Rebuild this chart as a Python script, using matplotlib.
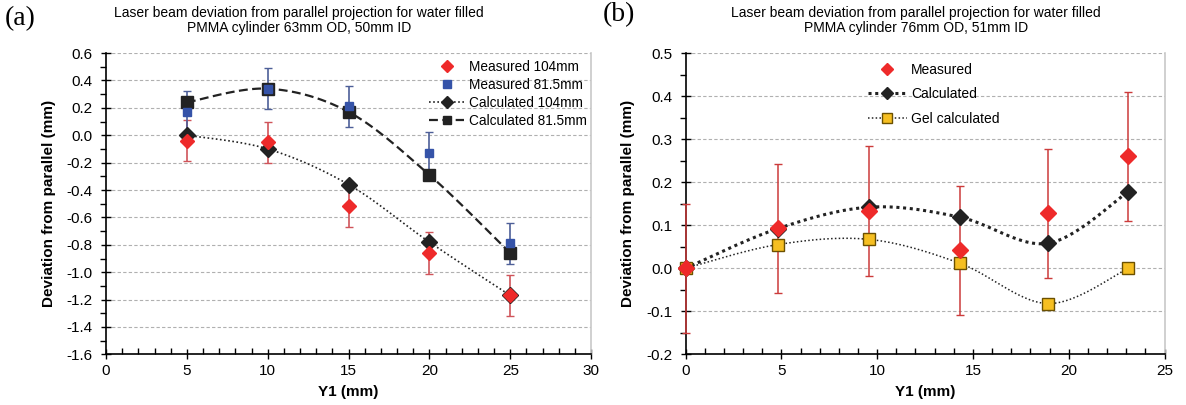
import numpy as np
import matplotlib
matplotlib.use("Agg")
import matplotlib.pyplot as plt
from matplotlib.ticker import MultipleLocator, FormatStrFormatter

plt.rcParams['font.family'] = ['Liberation Sans', 'DejaVu Sans']

# (a) 63mm OD / 50mm ID cylinder
y1_a = [5, 10, 15, 20, 25]
meas_104 = [-0.04, -0.05, -0.52, -0.86, -1.17]
meas_815 = [0.17, 0.34, 0.21, -0.13, -0.79]
err_a = 0.15
calc_104 = [0.0, -0.10, -0.36, -0.78, -1.17]
calc_815 = [0.24, 0.34, 0.17, -0.29, -0.86]

# (b) 76mm OD / 51mm ID cylinder
y1_b = [0.0, 4.8, 9.6, 14.3, 18.9, 23.1]
meas_b = [0.0, 0.093, 0.133, 0.042, 0.128, 0.26]
err_b = 0.15
calc_b = [0.0, 0.092, 0.142, 0.119, 0.058, 0.178]
gel_b = [0.0, 0.055, 0.067, 0.012, -0.082, 0.0]


def smooth(xs, ys, n=30):
    # Catmull-Rom style curve through the points (spreadsheet "smoothed line")
    p = np.column_stack([xs, ys]).astype(float)
    out = []
    for i in range(len(p) - 1):
        p0 = p[i - 1] if i > 0 else p[i]
        p3 = p[i + 2] if i + 2 < len(p) else p[i + 1]
        p1, p2 = p[i], p[i + 1]
        c1 = p1 + (p2 - p0) / 6
        c2 = p2 - (p3 - p1) / 6
        t = np.linspace(0, 1, n)[:, None]
        seg = ((1 - t) ** 3) * p1 + 3 * ((1 - t) ** 2) * t * c1 + 3 * (1 - t) * t ** 2 * c2 + t ** 3 * p2
        out.append(seg if i == 0 else seg[1:])
    seg = np.vstack(out)
    return seg[:, 0], seg[:, 1]


def style_axes(ax):
    ax.grid(axis='y', which='major', color='#b0b0b0', linestyle=(0, (3, 2)), linewidth=0.8)
    ax.set_axisbelow(True)
    ax.spines['top'].set_visible(False)
    ax.spines['right'].set_color('#c8c8c8')
    ax.spines['right'].set_linewidth(1.2)
    for s in ('left', 'bottom'):
        ax.spines[s].set_color('black')
        ax.spines[s].set_linewidth(1.2)
    ax.tick_params(which='major', direction='inout', length=7, width=1, labelsize=11)
    ax.tick_params(axis='y', which='major', pad=6)
    ax.tick_params(axis='y', which='minor', direction='out', length=4, width=1)
    ax.tick_params(axis='x', which='minor', direction='in', length=4, width=1)
    ax.set_xlabel('Y1 (mm)', fontsize=11, fontweight='bold', labelpad=5)
    ax.set_ylabel('Deviation from parallel (mm)', fontsize=11, fontweight='bold', labelpad=8)


fig = plt.figure(figsize=(11.86, 4.05), dpi=100)
ax1 = fig.add_axes([0.0894, 0.125, 0.409, 0.744])
ax2 = fig.add_axes([0.578, 0.125, 0.404, 0.744])

# ---- panel (a)
red_err = '#d0545a'
blue_err = '#4d5f98'
ax1.errorbar(y1_a, meas_104, yerr=err_a, fmt='none', ecolor=red_err, elinewidth=1.2, capsize=3, zorder=2)
ax1.errorbar(y1_a, meas_815, yerr=err_a, fmt='none', ecolor=blue_err, elinewidth=1.2, capsize=3, zorder=2)

sx, sy = smooth(y1_a, calc_104)
ax1.plot(sx, sy, color='#222222', linestyle=(0, (1, 1.5)), linewidth=1.2, zorder=3)
ax1.plot(y1_a, calc_104, linestyle='none', marker='D', markersize=8, color='#222222', zorder=4)
sx, sy = smooth(y1_a, calc_815)
ax1.plot(sx, sy, color='#222222', linestyle=(0, (4, 2)), linewidth=1.6, zorder=3)
ax1.plot(y1_a, calc_815, linestyle='none', marker='s', markersize=8.5, color='#222222', zorder=4)

ax1.plot(y1_a, meas_104, linestyle='none', marker='D', markersize=7.5, color='#ee2a2a', zorder=5)
ax1.plot(y1_a, meas_815, linestyle='none', marker='s', markersize=6, color='#3553a8', zorder=5)

# legend handles
h1 = ax1.plot([], [], linestyle='none', marker='D', markersize=6, color='#ee2a2a')[0]
h2 = ax1.plot([], [], linestyle='none', marker='s', markersize=6, color='#3553a8')[0]
h3 = ax1.plot([], [], color='#222222', linestyle=(0, (1, 1.5)), linewidth=1.2, marker='D', markersize=6)[0]
h4 = ax1.plot([], [], color='#222222', linestyle=(0, (4, 2)), linewidth=1.6, marker='s', markersize=6)[0]
ax1.legend([h1, h2, h3, h4], ['Measured 104mm', 'Measured 81.5mm', 'Calculated 104mm', 'Calculated 81.5mm'],
           loc='upper right', bbox_to_anchor=(1.01, 1.01), frameon=False, fontsize=9.8,
           handlelength=2.6, handletextpad=0.3, labelspacing=0.3, borderaxespad=0.3)

ax1.set_xlim(0, 30)
ax1.set_ylim(-1.6, 0.6)
ax1.xaxis.set_major_locator(MultipleLocator(5))
ax1.xaxis.set_minor_locator(MultipleLocator(1))
ax1.yaxis.set_major_locator(MultipleLocator(0.2))
ax1.yaxis.set_minor_locator(MultipleLocator(0.1))
ax1.yaxis.set_major_formatter(FormatStrFormatter('%.1f'))
style_axes(ax1)

# ---- panel (b)
# error bars sit above the spines so the one at Y1 = 0 shows over the axis line
ax2.errorbar(y1_b, meas_b, yerr=err_b, fmt='none', ecolor='#cc3b3b', elinewidth=1.1, capsize=3,
             zorder=3, clip_on=False)

sx, sy = smooth(y1_b, calc_b)
ax2.plot(sx, sy, color='#222222', linestyle=(0, (1, 1.2)), linewidth=2.2, zorder=4)
ax2.plot(y1_b, calc_b, linestyle='none', marker='D', markersize=8, color='#222222', zorder=5, clip_on=False)
sx, sy = smooth(y1_b, gel_b)
ax2.plot(sx, sy, color='#222222', linestyle=(0, (1, 1.5)), linewidth=1.1, zorder=4)
ax2.plot(y1_b, gel_b, linestyle='none', marker='s', markersize=8, markerfacecolor='#f6bf22',
         markeredgecolor='#6b5000', markeredgewidth=1.0, zorder=5, clip_on=False)
ax2.plot(y1_b, meas_b, linestyle='none', marker='D', markersize=8.5, color='#ee2a2a', zorder=6, clip_on=False)

g1 = ax2.plot([], [], linestyle='none', marker='D', markersize=6, color='#ee2a2a')[0]
g2 = ax2.plot([], [], color='#222222', linestyle=(0, (1, 1.2)), linewidth=2.2, marker='D', markersize=6)[0]
g3 = ax2.plot([], [], color='#222222', linestyle=(0, (1, 1.5)), linewidth=1.1, marker='s', markersize=7,
              markerfacecolor='#f6bf22', markeredgecolor='#6b5000')[0]
ax2.legend([g1, g2, g3], ['Measured', 'Calculated', 'Gel calculated'],
           loc='upper left', bbox_to_anchor=(0.36, 1.0), frameon=False, fontsize=10,
           handlelength=2.8, handletextpad=0.3, labelspacing=0.75, borderaxespad=0.3)

ax2.set_xlim(0, 25)
ax2.set_ylim(-0.2, 0.5)
ax2.xaxis.set_major_locator(MultipleLocator(5))
ax2.xaxis.set_minor_locator(MultipleLocator(1))
ax2.yaxis.set_major_locator(MultipleLocator(0.1))
ax2.yaxis.set_minor_locator(MultipleLocator(0.05))
ax2.yaxis.set_major_formatter(FormatStrFormatter('%.1f'))
style_axes(ax2)

# titles and panel letters
fig.text(0.252, 0.985, 'Laser beam deviation from parallel projection for water filled\nPMMA cylinder 63mm OD, 50mm ID',
         ha='center', va='top', fontsize=10, linespacing=1.1)
fig.text(0.772, 0.985, 'Laser beam deviation from parallel projection for water filled\nPMMA cylinder 76mm OD, 51mm ID',
         ha='center', va='top', fontsize=10, linespacing=1.1)
fig.text(0.004, 0.955, '(a)', ha='left', va='center', fontsize=20, family=['Liberation Serif', 'DejaVu Serif'])
fig.text(0.508, 0.965, '(b)', ha='left', va='center', fontsize=20, family=['Liberation Serif', 'DejaVu Serif'])

fig.savefig('out.png', dpi=100)
